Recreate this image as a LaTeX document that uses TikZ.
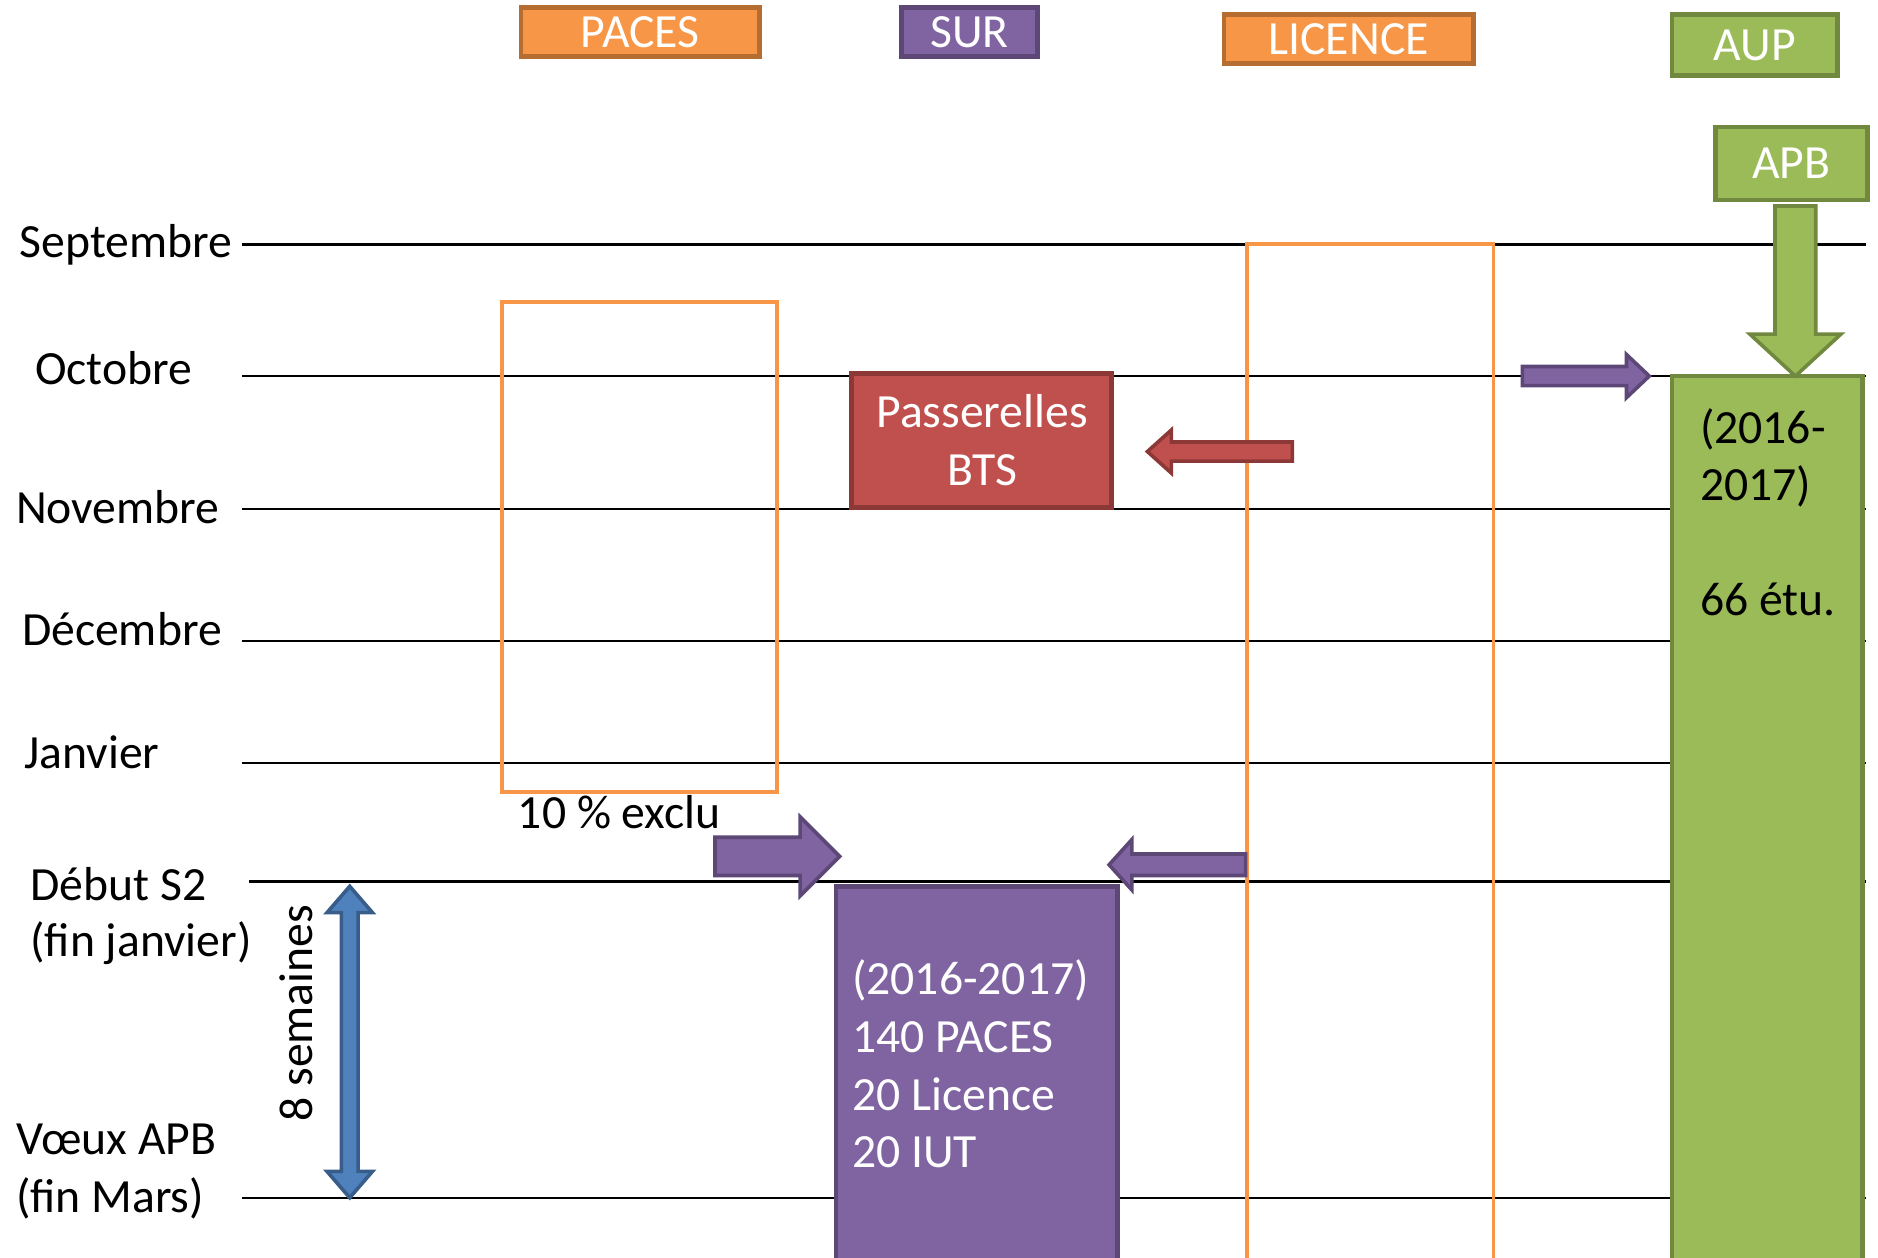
\documentclass[tikz,border=0pt]{standalone}
\usepackage{fontspec}
\setmainfont{Carlito}
\definecolor{orF}{HTML}{F79646}
\definecolor{orD}{HTML}{B66D31}
\definecolor{puF}{HTML}{8064A2}
\definecolor{puD}{HTML}{5C4776}
\definecolor{grF}{HTML}{9BBB59}
\definecolor{grD}{HTML}{71893F}
\definecolor{rdF}{HTML}{C0504D}
\definecolor{rdD}{HTML}{8C3836}
\definecolor{blF}{HTML}{4F81BD}
\definecolor{blD}{HTML}{385D8A}
\newcommand\labfont{\fontsize{19.9}{24}\selectfont}
\newcommand\hblock[7]{%
  \draw[#1] (#2,#5-#6) -- (#3,#5-#6) -- (#3,#5-#7) -- (#4,#5) -- (#3,#5+#7) -- (#3,#5+#6) -- (#2,#5+#6) -- cycle;}
\begin{document}
\begin{tikzpicture}[x=0.5pt,y=-0.5pt,
  hline/.style={line width=1pt,black},
  lbl/.style={anchor=base west,inner sep=0pt,font=\labfont,text=black},
  wlbl/.style={anchor=base,inner sep=0pt,font=\labfont,text=white},
  hdr/.style={inner sep=0pt,outer sep=0pt,line width=2pt,font=\labfont,text=white},
  bigbox/.style={anchor=north west,inner sep=0pt,outer sep=0pt,line width=2pt},
  outline/.style={anchor=north west,inner sep=0pt,outer sep=0pt,line width=1.6pt,draw=orF},
  blk/.style={line width=1.5pt,line join=miter}]
\useasboundingbox (0,0) rectangle (1568,1050);
\clip (0,0) rectangle (1568,1050);
% month lines
\draw[hline] (202,204) -- (1558,204);
\draw[hline] (202,314) -- (1558,314);
\draw[hline] (202,425) -- (1558,425);
\draw[hline] (202,535) -- (1558,535);
\draw[hline] (202,637) -- (1558,637);
\draw[hline] (208,736) -- (1558,736);
\draw[hline] (202,1000) -- (1558,1000);
% left labels
\node[lbl] (sep) at (16,215) {Septembre};
\node[lbl] (oct) at (29,321) {Octobre};
\node[lbl] (nov) at (13,437) {Novembre};
\node[lbl] (dec) at (18,539) {Décembre};
\node[lbl] (jan) at (20,642) {Janvier};
\node[lbl] (s2a) at (25,752) {Début S2};
\node[lbl] (s2b) at (25,799) {(fin janvier)};
\node[lbl] (apba) at (13,964) {Vœux APB};
\node[lbl] (apbb) at (13,1012) {(fin Mars)};
% header boxes
\node[hdr,fill=orF,draw=orD,minimum width=99.5pt,minimum height=20.5pt] (paces) at (534.5,26.5) {PACES};
\node[hdr,fill=puF,draw=puD,minimum width=56.5pt,minimum height=20.5pt] (sur) at (809.5,26.5) {SUR};
\node[hdr,fill=orF,draw=orD,minimum width=104pt,minimum height=20.5pt] (lic) at (1126,32.5) {LICENCE};
\node[hdr,fill=grF,draw=grD,minimum width=69pt,minimum height=25.5pt] (aup) at (1465,37.5) {AUP};
\node[hdr,fill=grF,draw=grD,minimum width=63.5pt,minimum height=30.5pt] (apb) at (1495.5,136.5) {APB};
% outlines
\node[outline,minimum width=115pt,minimum height=204.5pt] (pacesbox) at (419,252) {};
\node[outline,minimum width=103pt,minimum height=435pt] (licbox) at (1041,204) {};
% filled boxes
\node[bigbox,fill=rdF,draw=rdD,minimum width=108.5pt,minimum height=56pt] (pass) at (711,312) {};
\node[wlbl] (passa) at (820,357) {Passerelles};
\node[wlbl] (passb) at (820,405) {BTS};
\node[bigbox,fill=puF,draw=puD,minimum width=117.5pt,minimum height=170pt] (surbox) at (698,740) {};
\node[lbl,text=white] (sura) at (711,830) {(2016-2017)};
\node[lbl,text=white] (surb) at (711,879) {140 PACES};
\node[lbl,text=white] (surc) at (711,927) {20 Licence};
\node[lbl,text=white] (surd) at (711,975) {20 IUT};
\node[bigbox,fill=grF,draw=grD,minimum width=79.5pt,minimum height=380pt] (aupbox) at (1396,314) {};
\node[lbl] (aupa) at (1419,370) {(2016-};
\node[lbl] (aupb) at (1419,418) {2017)};
\node[lbl] (aupc) at (1419,514) {66 étu.};
\node[lbl] (excl) at (432,692) {10 \% exclu};
% block arrows
\hblock{blk,fill=rdF,draw=rdD}{1079}{978}{958}{377}{8}{18}
\hblock{blk,fill=puF,draw=puD}{1271}{1358}{1377}{314}{8}{18}
\hblock{blk,fill=puF,draw=puD}{597}{668}{701}{715}{16}{33}
\hblock{blk,fill=puF,draw=puD}{1040}{945}{926}{722}{9}{21}
\draw[blk,fill=grF,draw=grD] (1482,172) -- (1516,172) -- (1516,279) -- (1537,279) -- (1499,314) -- (1461,279) -- (1482,279) -- cycle;
\draw[blk,fill=blF,draw=blD] (285,762) -- (273,762) -- (292,740) -- (311,762) -- (299,762) -- (299,978) -- (311,978) -- (292,1000) -- (273,978) -- (285,978) -- cycle;
\node[rotate=90,inner sep=0pt,font=\labfont] (sem) at (247,846) {8 semaines};
\end{tikzpicture}
\end{document}
